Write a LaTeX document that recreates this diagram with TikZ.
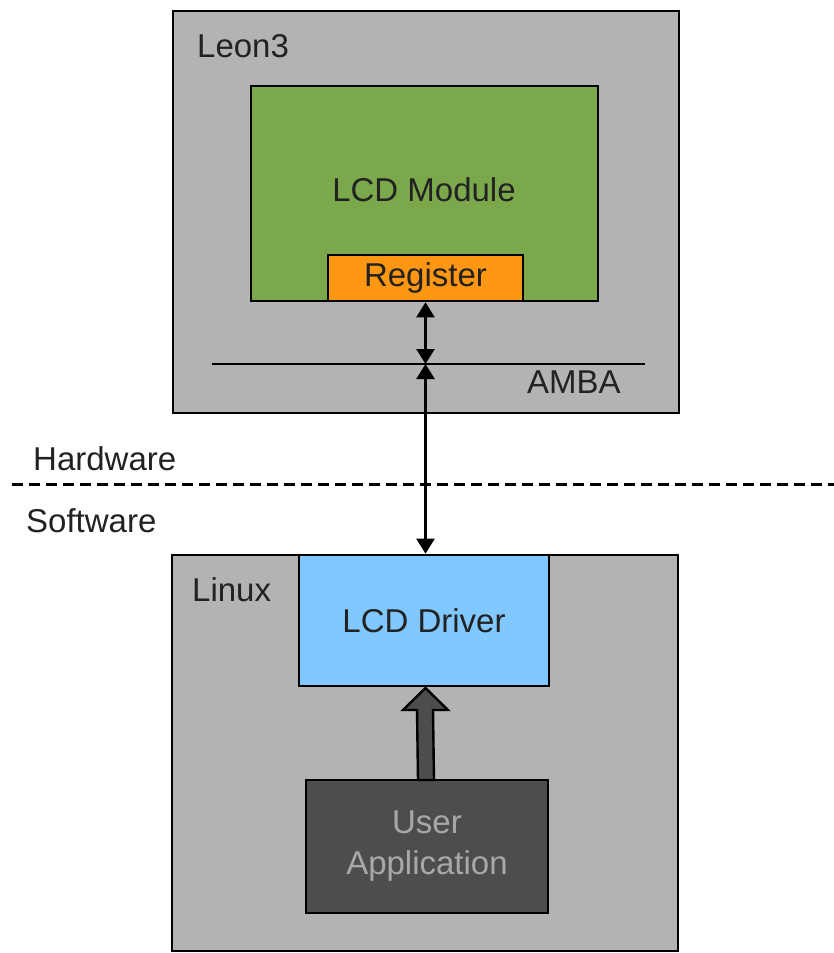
\documentclass[tikz,border=0pt]{standalone}
\usepackage{fontspec}
\setmainfont{Liberation Sans}
\usetikzlibrary{arrows.meta}
\definecolor{boxgray}{HTML}{B3B3B3}
\definecolor{modgreen}{HTML}{7BA84A}
\definecolor{regorange}{HTML}{FF9712}
\definecolor{drvblue}{HTML}{80C8FF}
\definecolor{appdark}{HTML}{4D4D4D}
\definecolor{txt}{HTML}{222222}
\definecolor{apptxt}{HTML}{A8A8A8}
\begin{document}
\begin{tikzpicture}[x=1pt,y=-1pt,
  every node/.style={font=\fontsize{33}{40}\selectfont, text=txt},
  blk/.style={draw=black, line width=2.6pt, inner sep=0pt, align=center},
  lbl/.style={anchor=west, inner sep=0pt},
  arr/.style={line width=2.4pt, {Triangle[width=18pt,length=15pt]}-{Triangle[width=18pt,length=15pt]}}]
\useasboundingbox (0,0) rectangle (834,953);
% hardware
\node[blk, fill=boxgray, minimum width=506pt, minimum height=402pt] (leon) at (426,212) {};
\node[lbl] (leonl) at (197,46) {Leon3};
\node[blk, fill=modgreen, minimum width=347pt, minimum height=215pt] (mod) at (424.5,193.5) {};
\node (modl) at (424,190) {LCD Module};
\node[blk, fill=regorange, minimum width=195pt, minimum height=46pt] (reg) at (425.5,278) {Register};
\coordinate (amL) at (212,364);
\coordinate (amR) at (645,364);
\draw[line width=2.4pt] (amL) -- (amR);
\node[lbl] (amba) at (527,382) {AMBA};
\coordinate (ab) at (425.5,364);
% separator
\node[lbl] (hw) at (33,459) {Hardware};
\node[lbl] (sw) at (26,521) {Software};
\coordinate (dL) at (12,484);
\coordinate (dR) at (834,484);
\draw[line width=3pt, dash pattern=on 11pt off 6pt] (dL) -- (dR);
% software
\node[blk, fill=boxgray, minimum width=506pt, minimum height=396pt] (linux) at (425,753) {};
\node[lbl] (linuxl) at (192,590) {Linux};
\node[blk, fill=drvblue, minimum width=250pt, minimum height=131pt] (drv) at (424,620.5) {LCD Driver};
\node[blk, fill=appdark, minimum width=242pt, minimum height=133pt, text=apptxt] (app) at (427,846.5) {User\\[1pt]Application};
% connectors
\draw[arr] (reg.south) -- (ab);
\draw[arr] (ab) -- (ab |- drv.north);
\draw[line width=2.4pt, fill=appdark, line join=miter]
  (418,780) -- (417,710) -- (403,710) -- (425.5,688) -- (448,710) -- (433,710) -- (434,780) -- cycle;
\end{tikzpicture}
\end{document}
